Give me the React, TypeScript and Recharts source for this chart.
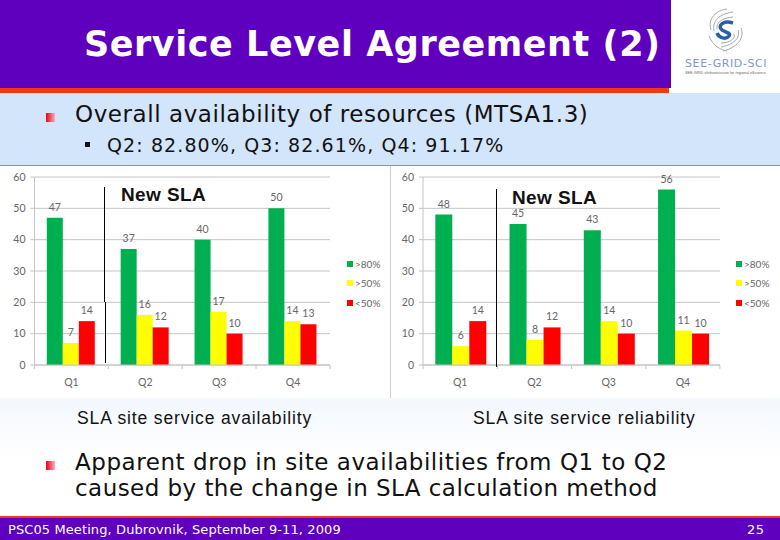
import { Bar, BarChart, CartesianGrid, LabelList, Legend, XAxis, YAxis } from "recharts";

const QUARTERS = ["Q1", "Q2", "Q3", "Q4"];
const Y_TICKS = [0, 10, 20, 30, 40, 50, 60];

const AVAIL_HIGH = [47, 37, 40, 50];
const AVAIL_MID = [7, 16, 17, 14];
const AVAIL_LOW = [14, 12, 10, 13];

const RELIAB_HIGH = [48, 45, 43, 56];
const RELIAB_MID = [6, 8, 14, 11];
const RELIAB_LOW = [14, 12, 10, 10];

const SERIES = [
  { key: "high", name: ">80%", color: "#00b050" },
  { key: "mid", name: ">50%", color: "#ffff00" },
  { key: "low", name: "<50%", color: "#ff0000" },
];

const AXIS_TEXT = "#666";
const GRID = "#c4c4c4";
const CHART_FONT = "Lato, 'Open Sans', sans-serif";
const BODY_FONT = "'DejaVu Sans', Verdana, sans-serif";
const ARIAL = "'Liberation Sans', Arial, sans-serif";

function buildRows(high: number[], mid: number[], low: number[]) {
  return QUARTERS.map((q, i) => ({ q, high: high[i], mid: mid[i], low: low[i] }));
}

// Excel style: tick marks sit between the categories, not under them
function QuarterTick({ x, y, payload, index }: any) {
  const step = 296 / QUARTERS.length;
  return (
    <g>
      <line x1={x - step / 2} x2={x - step / 2} y1={y - 8} y2={y - 4} stroke={GRID} />
      {index === QUARTERS.length - 1 && (
        <line x1={x + step / 2} x2={x + step / 2} y1={y - 8} y2={y - 4} stroke={GRID} />
      )}
      <text x={x} y={y + 13} textAnchor="middle" fontSize={10.5} fill={AXIS_TEXT} fontFamily={CHART_FONT}>
        {payload.value}
      </text>
    </g>
  );
}

function LegendList() {
  return (
    <div style={{ width: 40 }}>
      {SERIES.map((s) => (
        <div key={s.key} style={{ display: "flex", alignItems: "center", height: 19.5, fontSize: 10, color: AXIS_TEXT, fontFamily: CHART_FONT }}>
          <span style={{ width: 6, height: 6, background: s.color, marginRight: 2 }} />
          {s.name}
        </div>
      ))}
    </div>
  );
}

function SiteChart({ rows, left, axisWidth, legendLeft, ruled }: { rows: any[]; left: number; axisWidth: number; legendLeft: number; ruled?: boolean }) {
  return (
    <div style={{ position: "absolute", left, top: 165, width: 390, height: 233, background: "#fff", borderTop: "1px solid #8a97a5", boxSizing: "border-box", overflow: "hidden" }}>
      <BarChart
        width={390}
        height={234}
        data={rows}
        margin={{ top: 11, right: 0, bottom: 0, left: 0 }}
        barCategoryGap={12.3}
        barGap={0}
      >
        <CartesianGrid vertical={false} stroke={GRID} />
        <XAxis dataKey="q" height={35} interval={0} tick={QuarterTick} tickLine={false} axisLine={{ stroke: GRID }} />
        <YAxis
          width={axisWidth}
          domain={[0, 60]}
          ticks={Y_TICKS}
          tickSize={4}
          tickMargin={5}
          tickLine={{ stroke: GRID }}
          axisLine={{ stroke: GRID }}
          tick={{ fontSize: 10.5, fill: AXIS_TEXT, fontFamily: CHART_FONT }}
        />
        <Legend layout="vertical" align="right" verticalAlign="middle" width={60} wrapperStyle={{ left: legendLeft }} content={<LegendList />} />
        {SERIES.map((s) => (
          <Bar key={s.key} dataKey={s.key} name={s.name} fill={s.color} isAnimationActive={false}>
            <LabelList dataKey={s.key} position="top" offset={7} fontSize={10.5} fill={AXIS_TEXT} fontFamily={CHART_FONT} />
          </Bar>
        ))}
      </BarChart>
      {ruled && <div style={{ position: "absolute", left: 0, top: 0, width: 1, height: 233, background: "#d0d0d0" }} />}
    </div>
  );
}

function Text({ x, y, size, children, color = "#111", bold, font = BODY_FONT, spacing = 0 }: any) {
  return (
    <div style={{ position: "absolute", left: x, top: y, fontSize: size, lineHeight: 1, color, letterSpacing: spacing, fontWeight: bold ? 700 : 400, fontFamily: font, whiteSpace: "nowrap" }}>
      {children}
    </div>
  );
}

function RedBullet({ y }: { y: number }) {
  return <div style={{ position: "absolute", left: 46, top: y, width: 9, height: 9, background: "linear-gradient(90deg,#e8001c,#f9b0b8)" }} />;
}

function Divider({ x, top, bottom }: { x: number; top: number; bottom: number }) {
  return <div style={{ position: "absolute", left: x, top, width: 1, height: bottom - top, background: "#000" }} />;
}

function Logo() {
  return (
    <div style={{ position: "absolute", left: 671, top: 0, width: 109, height: 93, background: "#fff" }}>
      <svg width={109} height={60} style={{ position: "absolute", left: 0, top: 0 }}>
        <g fill="none" stroke="#a4a8ac" strokeWidth={1}>
          <path d="M40 30 C36 18 46 10 56 9" />
          <path d="M43 31 C41 21 48 14 62 12" />
          <path d="M46 29 C45 23 50 18 62 17" />
          <path d="M70 28 C74 38 66 48 52 51" />
          <path d="M67 30 C70 38 62 45 50 47" />
          <path d="M63 34 C65 39 58 43 50 43" />
          <path d="M38 36 C42 46 50 50 56 51" />
        </g>
        <path d="M62 23 C52 20 46 26 51 30 C56 33 60 33 58 36 C55 40 48 38 46 33" fill="none" stroke="#2b5ea8" strokeWidth={3.5} />
      </svg>
      <Text x={14} y={58} size={11} color="#8496bf" spacing={0.6}>SEE-GRID-SCI</Text>
      <Text x={14} y={72} size={3.8} color="#666" font={ARIAL}>SEE-GRID eInfrastructure for regional eScience</Text>
    </div>
  );
}

export default function App() {
  const availRows = buildRows(AVAIL_HIGH, AVAIL_MID, AVAIL_LOW);
  const reliabRows = buildRows(RELIAB_HIGH, RELIAB_MID, RELIAB_LOW);

  return (
    <div style={{ position: "fixed", left: 0, top: 0, width: 780, height: 540, overflow: "hidden", background: "#fff" }}>
      <div style={{ position: "absolute", left: 0, top: 93, width: 780, height: 72, background: "#d3e5fb" }} />
      <div style={{ position: "absolute", left: 0, top: 398, width: 780, height: 60, background: "linear-gradient(180deg,#f3f7fe,#ffffff)" }} />
      <div style={{ position: "absolute", left: 0, top: 0, width: 671, height: 88, background: "#5f00bf" }} />
      <div style={{ position: "absolute", left: 0, top: 88, width: 669, height: 5, background: "#ee3a14" }} />
      <Logo />
      <Text x={84} y={27} size={35} color="#fff" bold spacing={0.55}>Service Level Agreement (2)</Text>

      <RedBullet y={113} />
      <Text x={75} y={103} size={23} spacing={0.56}>Overall availability of resources (MTSA1.3)</Text>
      <div style={{ position: "absolute", left: 85, top: 142, width: 5, height: 5, background: "#111" }} />
      <Text x={107} y={136} size={19} spacing={1.1}>Q2: 82.80%, Q3: 82.61%, Q4: 91.17%</Text>

      <SiteChart rows={availRows} left={0} axisWidth={34.5} legendLeft={347} />
      <SiteChart rows={reliabRows} left={390} axisWidth={33} legendLeft={346} ruled />

      <Divider x={104} top={187} bottom={302} />
      <Divider x={105} top={302} bottom={363} />
      <Divider x={496} top={189} bottom={367} />
      <Text x={121} y={185} size={19} font={ARIAL} spacing={0.4} bold>New SLA</Text>
      <Text x={512} y={188} size={19} font={ARIAL} spacing={0.4} bold>New SLA</Text>

      <Text x={77} y={410} size={17.5} font={ARIAL} spacing={0.86}>SLA site service availability</Text>
      <Text x={473} y={410} size={17.5} font={ARIAL} spacing={0.9}>SLA site service reliability</Text>

      <RedBullet y={461} />
      <Text x={75} y={451} size={23} spacing={0.55}>Apparent drop in site availabilities from Q1 to Q2</Text>
      <Text x={75} y={477} size={23} spacing={0.45}>caused by the change in SLA calculation method</Text>

      <div style={{ position: "absolute", left: 0, top: 516, width: 780, height: 2, background: "#ee3a14" }} />
      <div style={{ position: "absolute", left: 0, top: 518, width: 780, height: 22, background: "#5f00bf" }} />
      <Text x={8} y={523} size={13} color="#fff" spacing={0.1}>PSC05 Meeting, Dubrovnik, September 9-11, 2009</Text>
      <Text x={747} y={523} size={13} color="#fff" spacing={0.5}>25</Text>
    </div>
  );
}
